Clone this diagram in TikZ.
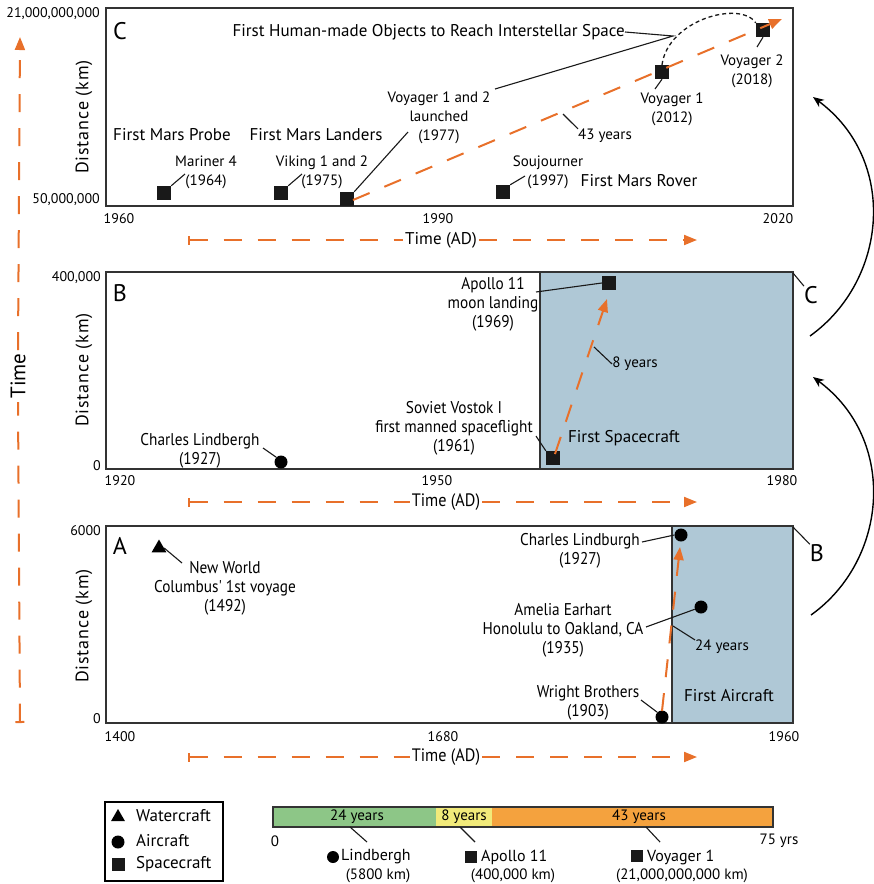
\documentclass[tikz,border=0pt]{standalone}
\usepackage{fontspec}
\setmainfont{PT Sans}
\newfontfamily\narrowfont[FakeStretch=0.9]{PT Sans}
\newfontfamily\widefont[LetterSpace=5]{PT Sans}
\usetikzlibrary{arrows.meta,calc,shapes.geometric}

\definecolor{orng}{RGB}{232,112,42}
\definecolor{panelblue}{RGB}{175,200,214}
\definecolor{bargreen}{RGB}{141,198,135}
\definecolor{baryellow}{RGB}{241,234,122}
\definecolor{barorange}{RGB}{244,162,62}

\tikzset{
	panelframe/.style={draw=black!80, line width=1.6pt},
	lead/.style={draw=black!90, line width=1.1pt},
	marksq/.style={fill=black!90, minimum size=14pt, inner sep=0pt},
	markdot/.style={circle, fill=black, minimum size=13pt, inner sep=0pt},
	marktri/.style={regular polygon, regular polygon sides=3, fill=black, minimum size=17pt, inner sep=0pt},
	orngdash/.style={draw=orng, line width=2pt, dash pattern=on 18pt off 16pt},
	orngtip/.style={-{Triangle[length=13pt,width=10pt]}},
	lbl/.style={font=\fontsize{15}{19}\selectfont, align=center, inner sep=0pt},
	hlbl/.style={font=\fontsize{17}{19}\selectfont, align=center, inner sep=0pt},
	nlbl/.style={font=\narrowfont\fontsize{17}{19}\selectfont, align=center, inner sep=0pt},
	ticklbl/.style={font=\fontsize{14}{15}\selectfont, inner sep=0pt},
	bigletter/.style={font=\fontsize{24}{26}\selectfont, inner sep=0pt},
	distlbl/.style={font=\widefont\fontsize{18}{19}\selectfont, rotate=90, inner sep=0pt},
	timelbl/.style={font=\fontsize{17}{19}\selectfont, inner sep=2pt},
	ntimelbl/.style={font=\narrowfont\fontsize{18}{19}\selectfont, inner sep=2pt},
	keylbl/.style={font=\fontsize{17}{19}\selectfont, inner sep=0pt, anchor=west},
}

\begin{document}
\begin{tikzpicture}[x=1pt, y=-1pt]
			%%%%% START %%%%%
			\useasboundingbox (0,0) rectangle (874,884);
			
			% time axis on the left
			\node[font=\fontsize{21}{22}\selectfont, rotate=90, inner sep=3pt] (tleft) at (18,376) {Time};
			\coordinate (tlbot) at (20,723);
			\coordinate (tltop) at (20,37);
			\draw[orngdash, {Bar[width=9pt]}-] (tlbot) -- (tleft.west |- 0,402);
			\draw[orngdash, orngtip] (tleft.east |- 0,350) -- (tltop);
			
			%%%%% PANEL C %%%%%
			\draw[panelframe] (106,8) rectangle (793,206);
			\node[bigletter] (letC) at (120,31) {C};
			\node[ticklbl, anchor=east] (cymax) at (100,14) {21,000,000,000};
			\node[ticklbl, anchor=east] (cymin) at (100,200) {50,000,000};
			\node[ticklbl] (cx1) at (119,219) {1960};
			\node[ticklbl] (cx2) at (438,219) {1990};
			\node[ticklbl] (cx3) at (778,219) {2020};
			\node[distlbl] (cdist) at (84,117) {Distance (km)};
			
			\node[marksq] (mariner) at (164,193) {};
			\node[marksq] (viking) at (281,193) {};
			\node[marksq] (voylaunch) at (347,199) {};
			\node[marksq] (souj) at (503,192) {};
			\node[marksq] (voyone) at (662,72) {};
			\node[marksq] (voytwo) at (763,30) {};
			
			\draw[orngdash, orngtip] (353,200) -- (782,19);
			\draw[black!90, line width=1.3pt, dash pattern=on 4pt off 3pt] (voyone.north) .. controls (668,20) and (740,0) .. (voytwo.north west);
			
			\node[hlbl, anchor=east] (interlbl) at (625,32) {First Human-made Objects to Reach Interstellar Space};
			\coordinate (join) at (673,36);
			\node[hlbl] (marslbl) at (172,135) {First Mars Probe};
			\node[hlbl] (landlbl) at (316,135) {First Mars Landers};
			\node[hlbl] (roverlbl) at (639,181) {First Mars Rover};
			\node[lbl] (marinerlbl) at (206,172) {Mariner 4\\(1964)};
			\node[lbl] (vikinglbl) at (322,172) {Viking 1 and 2\\(1975)};
			\node[lbl] (soujlbl) at (548,172) {Soujourner\\(1997)};
			\node[lbl] (launchlbl) at (439,118) {Voyager 1 and 2\\launched\\(1977)};
			\node[lbl] (voyonelbl) at (672,109) {Voyager 1\\(2012)};
			\node[lbl] (voytwolbl) at (752,71) {Voyager 2\\(2018)};
			\node[lbl] (fortythree) at (605,136) {43 years};
			
			\draw[lead] (mariner.north east) -- (185,174);
			\draw[lead] (viking.north east) -- (302,174);
			\draw[lead] (souj.north east) -- (525,176);
			\draw[lead] (voylaunch.north east) -- (408,132);
			\draw[lead] (interlbl.east) -- (join) -- (495,89);
			\draw[lead] (voyone.south) -- (655,89);
			\draw[lead] (voytwo.south) -- (757,47);
			\draw[lead] (563,114) -- (fortythree.north west);
			
			\node[timelbl] (ctime) at (441,240) {Time (AD)};
			\coordinate (ctstart) at (188,240);
			\coordinate (ctend) at (697,240);
			\draw[orngdash, {Bar[width=9pt]}-] (ctstart) -- (ctime.west);
			\draw[orngdash, orngtip] (ctime.east) -- (ctend);
			
			%%%%% PANEL B %%%%%
			\fill[panelblue] (540,272) rectangle (793,469);
			\draw[panelframe] (540,272) -- (540,469);
			\draw[panelframe] (106,272) rectangle (793,469);
			\node[bigletter] (letB) at (120,293) {B};
			\node[ticklbl, anchor=east] (bymax) at (101,278) {400,000};
			\node[ticklbl, anchor=east] (bymin) at (101,466) {0};
			\node[ticklbl] (bx1) at (120,481) {1920};
			\node[ticklbl] (bx2) at (437,481) {1950};
			\node[ticklbl] (bx3) at (782,481) {1980};
			\node[distlbl] (bdist) at (84,370) {Distance (km)};
			
			\node[marksq] (apollo) at (609,283) {};
			\node[marksq] (vostok) at (553,458) {};
			\node[markdot] (lindy) at (281,462) {};
			\draw[orngdash, orngtip] (555,454) -- (607,299);
			
			\node[nlbl] (apollolbl) at (493,304) {Apollo 11\\moon landing\\(1969)};
			\node[nlbl] (vostoklbl) at (454,428) {Soviet Vostok I\\first manned spaceflight\\(1961)};
			\node[nlbl] (lindylbl) at (200,451) {Charles Lindbergh\\(1927)};
			\node[lbl] (eight) at (635,364) {8 years};
			\node[hlbl] (firstspace) at (624,438) {First Spacecraft};
			\node[bigletter] (outC) at (811,295) {C};
			
			\draw[lead] (536,292) -- (apollo.west);
			\draw[lead] (536,436) -- (vostok.north west);
			\draw[lead] (263,448) -- (lindy.135);
			\draw[lead] (594,347) -- (eight.west);
			\draw[lead] (793,273) -- (outC.north west);
			
			\node[ntimelbl] (btime) at (446,502) {Time (AD)};
			\coordinate (btstart) at (188,502);
			\coordinate (btend) at (697,502);
			\draw[orngdash, {Bar[width=9pt]}-] (btstart) -- (btime.west);
			\draw[orngdash, orngtip] (btime.east) -- (btend);
			
			%%%%% PANEL A %%%%%
			\fill[panelblue] (672,526) rectangle (793,723);
			\draw[panelframe] (672,526) -- (672,723);
			\draw[panelframe] (106,526) rectangle (793,723);
			\node[bigletter] (letA) at (120,546) {A};
			\node[ticklbl, anchor=east] (aymax) at (101,531) {6000};
			\node[ticklbl, anchor=east] (aymin) at (101,719) {0};
			\node[ticklbl] (ax1) at (120,737) {1400};
			\node[ticklbl] (ax2) at (443,737) {1680};
			\node[ticklbl] (ax3) at (784,737) {1960};
			\node[distlbl] (adist) at (84,626) {Distance (km)};
			
			\node[marktri] (columbus) at (159,548) {};
			\node[markdot] (lindb) at (681,535) {};
			\node[markdot] (amelia) at (701,607) {};
			\node[markdot] (wright) at (662,717) {};
			\draw[orngdash, orngtip] (662,711) -- (680,547);
			
			\node[nlbl] (columbuslbl) at (225,588) {New World\\Columbus' 1st voyage\\(1492)};
			\node[nlbl] (lindblbl) at (580,551) {Charles Lindburgh\\(1927)};
			\node[nlbl] (amelialbl) at (563,630) {Amelia Earhart\\Honolulu to Oakland, CA\\(1935)};
			\node[nlbl] (wrightlbl) at (588,703) {Wright Brothers\\(1903)};
			\node[lbl] (twentyfour) at (722,647) {24 years};
			\node[hlbl] (firstair) at (729,696) {First Aircraft};
			\node[bigletter] (outB) at (817,553) {B};
			
			\draw[lead] (columbus.east) -- (182,563);
			\draw[lead] (642,542) -- (lindb.west);
			\draw[lead] (646,627) -- (amelia.200);
			\draw[lead] (673,626) -- (twentyfour.north west);
			\draw[lead] (641,700) -- (wright.north west);
			\draw[lead] (793,527) -- (outB.north west);
			
			\node[ntimelbl] (atime) at (446,757) {Time (AD)};
			\coordinate (atstart) at (188,757);
			\coordinate (atend) at (697,757);
			\draw[orngdash, {Bar[width=9pt]}-] (atstart) -- (atime.west);
			\draw[orngdash, orngtip] (atime.east) -- (atend);
			
			% curved arrows between panels
			\coordinate (abfrom) at (811,615);
			\coordinate (abto) at (813,377);
			\coordinate (bcfrom) at (810,336);
			\coordinate (bcto) at (813,97);
			\draw[line width=1.4pt, -{Stealth[length=11pt,width=9pt]}] (abfrom) .. controls (888,560) and (898,440) .. (abto);
			\draw[line width=1.4pt, -{Stealth[length=11pt,width=9pt]}] (bcfrom) .. controls (888,280) and (898,160) .. (bcto);
			
			%%%%% LEGEND %%%%%
			\draw[line width=1.2pt] (105,802) rectangle (223,881);
			\node[marktri, minimum size=16pt] (lgtri) at (118,817) {};
			\node[markdot] (lgdot) at (118,842) {};
			\node[marksq, minimum size=13pt] (lgsq) at (118,864) {};
			\node[keylbl] (lgwater) at (136,816) {Watercraft};
			\node[keylbl] (lgair) at (136,841) {Aircraft};
			\node[keylbl] (lgspace) at (136,864) {Spacecraft};
			
			\fill[bargreen] (273,807) rectangle (436,827);
			\fill[baryellow] (436,807) rectangle (492,827);
			\fill[barorange] (492,807) rectangle (773,827);
			\draw[black!80, line width=1.2pt] (273,807) rectangle (773,827);
			\node[lbl] (bar24) at (357,817) {24 years};
			\node[lbl] (bar8) at (464,817) {8 years};
			\node[lbl] (bar43) at (639,817) {43 years};
			\node[lbl] (barzero) at (275,841) {0};
			\node[lbl] (barend) at (779,841) {75 yrs};
			
			\node[markdot, minimum size=12pt] (lglindy) at (333,857) {};
			\node[marksq, minimum size=12pt] (lgapollo) at (471,857) {};
			\node[marksq, minimum size=12pt] (lgvoyager) at (637,856) {};
			\node[lbl, font=\fontsize{16}{19}\selectfont, anchor=west] (lglindylbl) at (341,857) {Lindbergh};
			\node[lbl, font=\fontsize{16}{19}\selectfont, anchor=west] (lgapollolbl) at (481,857) {Apollo 11};
			\node[lbl, font=\fontsize{16}{19}\selectfont, anchor=west] (lgvoyagerlbl) at (647,857) {Voyager 1};
			\node[lbl] (lglindykm) at (378,876) {(5800 km)};
			\node[lbl] (lgapollokm) at (513,876) {(400,000 km)};
			\node[lbl] (lgvoyagerkm) at (682,876) {(21,000,000,000 km)};
			
			\draw[lead] (350,827) -- (367,842);
			\draw[lead] (460,827) -- (475,842);
			\draw[lead] (646,827) -- (660,842);
			
			%%%%% END %%%%%
\end{tikzpicture}
\end{document}
